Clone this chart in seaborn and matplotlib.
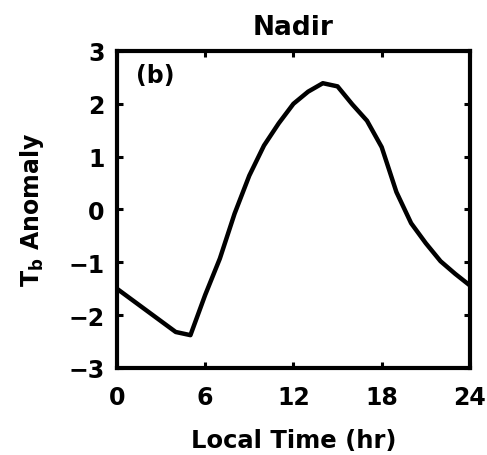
import seaborn as sns
import matplotlib.pyplot as plt
import pandas as pd

# Valores (anomalia de Tb por hora local)
hours = [0, 4, 5, 6, 7, 8, 9, 10, 11, 12, 13, 14, 15, 16, 17, 18, 19, 20, 21, 22, 23, 24]
anomaly = [-1.5, -2.32, -2.38, -1.62, -0.93, -0.08, 0.64, 1.21, 1.63, 2.0, 2.23, 2.39,
           2.33, 1.99, 1.68, 1.18, 0.33, -0.26, -0.64, -0.98, -1.22, -1.44]
xticks = [0, 6, 12, 18, 24]
yticks = [-3, -2, -1, 0, 1, 2, 3]

df = pd.DataFrame({"hour": hours, "anomaly": anomaly})

sns.set_style("ticks")
plt.rcParams["font.family"] = ["DejaVu Sans"]
plt.rcParams["font.weight"] = "bold"
plt.rcParams["text.color"] = "black"
plt.rcParams["axes.labelcolor"] = "black"
plt.rcParams["xtick.color"] = "black"
plt.rcParams["ytick.color"] = "black"
plt.rcParams["axes.edgecolor"] = "black"

fig = plt.figure(figsize=(4.87, 4.56), dpi=100)
ax = fig.add_axes([0.240, 0.191, 0.725, 0.695])

sns.lineplot(data=df, x="hour", y="anomaly", color="black", linewidth=3.2, ax=ax)

ax.set_xlim(0, 24)
ax.set_ylim(-3, 3)
ax.set_xticks(xticks)
ax.set_yticks(yticks)
ax.tick_params(direction="in", length=4, width=2.2, top=True, right=True,
               labelsize=17)
ax.tick_params(axis="x", pad=12)
ax.tick_params(axis="y", pad=9)
for lab in ax.get_xticklabels() + ax.get_yticklabels():
    lab.set_fontweight("bold")
for s in ax.spines.values():
    s.set_linewidth(3)

ax.set_title("Nadir", fontsize=19, fontweight="bold", pad=12)
ax.set_xlabel("Local Time (hr)", fontsize=17.5, fontweight="bold", labelpad=14)
ax.set_ylabel(r"$\mathbf{T_b}$ Anomaly", fontsize=17, fontweight="bold", labelpad=16)
ax.text(1.3, 2.78, "(b)", fontsize=17, fontweight="bold", ha="left", va="top")

fig.savefig("out.png", dpi=100)
